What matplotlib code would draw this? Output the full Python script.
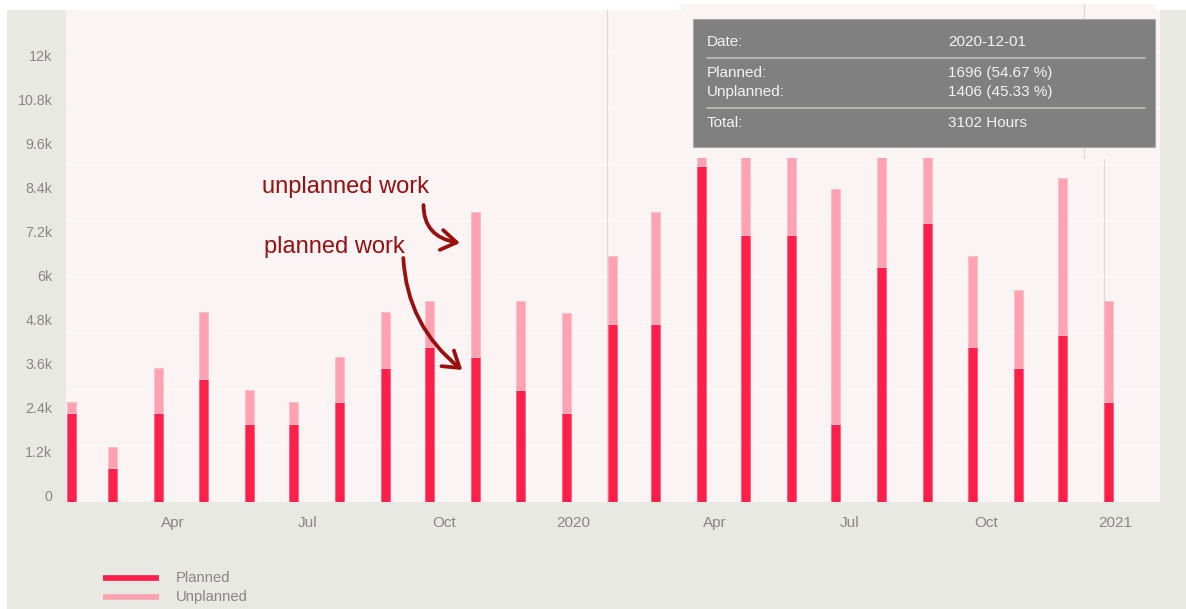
import matplotlib
matplotlib.use("Agg")
import matplotlib.pyplot as plt
import matplotlib.transforms as mtransforms
from matplotlib.patches import Rectangle, FancyArrowPatch, ArrowStyle
from matplotlib.lines import Line2D
from matplotlib.path import Path
import numpy as np
import pandas as pd

# ---------------- data ----------------
months = pd.date_range("2019-02-01", "2021-01-01", freq="MS")
planned = [2430, 930, 2430, 3360, 2130, 2130, 2740, 3670, 4240, 3970, 3050, 2430,
           4870, 4870, 9150, 7290, 7290, 2130, 6400, 7610, 4240, 3660, 4550, 2740]
unplanned = [310, 580, 1240, 1820, 920, 610, 1230, 1510, 1240, 3940, 2430, 2740,
             1840, 3040, 550, 2410, 2410, 6400, 3300, 2090, 2470, 2130, 4290, 2740]
series_names = ["Planned", "Unplanned"]

ytick_values = [0, 1200, 2400, 3600, 4800, 6000, 7200, 8400, 9600, 10800, 12000]
ytick_labels = ["0", "1.2k", "2.4k", "3.6k", "4.8k", "6k", "7.2k", "8.4k", "9.6k", "10.8k", "12k"]
xtick_dates = pd.to_datetime(["2019-04-01", "2019-07-01", "2019-10-01", "2020-01-01",
                              "2020-04-01", "2020-07-01", "2020-10-01", "2021-01-01"])
xtick_labels = ["Apr", "Jul", "Oct", "2020", "Apr", "Jul", "Oct", "2021"]

tooltip_date = "2020-12-01"
tooltip_planned = 1696
tooltip_unplanned = 1406
tooltip_total = tooltip_planned + tooltip_unplanned

annotations = ["unplanned work", "planned work"]

# ---------------- style ----------------
W, H = 1186, 609
RED = "#ff1f4b"
PINK = "#ffa3b3"
PLOT_BG = "#faf4f4"
PANEL = "#e9e9e4"
GREY_TXT = "#8a8585"
ANNOT = "#9a0e0e"
FONT = "Liberation Sans"

plt.rcParams["font.family"] = [FONT, "DejaVu Sans"]

fig = plt.figure(figsize=(W / 100, H / 100), dpi=100, facecolor="white")
# pixel transform (top-left origin)
px = mtransforms.Affine2D().scale(1, -1).translate(0, H)


def off(dx, dy):
    return mtransforms.ScaledTranslation(dx / 100, dy / 100, fig.dpi_scale_trans)


# grey panel
fig.add_artist(Rectangle((7, 10), W - 7, H - 10, transform=px, facecolor=PANEL,
                         edgecolor="none", zorder=-10))

ax_left, ax_right, ax_top, ax_bottom = 66, 1160, 10, 502.3
ax = fig.add_axes([ax_left / W, 1 - ax_bottom / H, (ax_right - ax_left) / W,
                   (ax_bottom - ax_top) / H])
ax.set_facecolor(PLOT_BG)
for s in ax.spines.values():
    s.set_visible(False)

# scale: 36.7 px per 1000
y_top = (ax_bottom - ax_top) / 36.7 * 1000
ax.set_ylim(0, y_top)
ax.set_xlim(months[0] - pd.Timedelta(days=3.5), months[-1] + pd.Timedelta(days=34.7))

# faint gridlines
for v in np.arange(1534, y_top, 1534):
    ax.axhline(v, color="#fdf9f9", lw=1.3, zorder=0.5)

bar_w = 6.1
ax.bar(months, planned, width=bar_w, color=RED, edgecolor="#ff5c7c", linewidth=0.6,
       zorder=2, label=series_names[0])
ax.bar(months, unplanned, bottom=planned, width=bar_w, color=PINK, edgecolor="#ffbcc8",
       linewidth=0.6, zorder=2, label=series_names[1])

ax.set_xticks([])
ax.set_yticks([])

# y tick labels
for v, lab in zip(ytick_values, ytick_labels):
    ax.text(0, v, lab, transform=ax.get_yaxis_transform() + off(-13.7, 5.3),
            ha="right", va="center", fontsize=10.3, color=GREY_TXT)
# x tick labels
for d, lab in zip(xtick_dates, xtick_labels):
    dx = 7 if lab.isdigit() else 14
    ax.text(d, 0, lab, transform=ax.get_xaxis_transform() + off(dx, -21),
            ha="center", va="center", fontsize=11, color=GREY_TXT)

# crosshair lines inside plot
ax.add_line(Line2D([607.3, 607.3], [10, 502.3], transform=px, color="#dcd8d8", lw=0.9, zorder=1))
ax.add_line(Line2D([1103.7, 1103.7], [159, 502.3], transform=px, color="#dcd8d8", lw=0.9, zorder=1))

# annotations
fig.text(261.7 / W, 1 - 193.3 / H, annotations[0], fontsize=17, color=ANNOT, va="baseline")
fig.text(264 / W, 1 - 252.7 / H, annotations[1], fontsize=17, color=ANNOT, va="baseline")

astyle = ArrowStyle("->", head_length=0.55, head_width=0.36)
p1 = Path([(423.5, 205), (423.5, 237), (460, 243)], [Path.MOVETO, Path.CURVE3, Path.CURVE3])
p2 = Path([(403.3, 258), (407, 326), (462.3, 370)], [Path.MOVETO, Path.CURVE3, Path.CURVE3])
for p in (p1, p2):
    fig.add_artist(FancyArrowPatch(path=p, transform=px, arrowstyle=astyle, mutation_scale=20,
                                   color=ANNOT, lw=2.7, capstyle="round", joinstyle="round",
                                   zorder=4))

# tooltip cover + box
fig.add_artist(Rectangle((681, 4), 1155 - 681, 158 - 4, transform=px, facecolor=PLOT_BG,
                         edgecolor="none", zorder=5))
fig.add_artist(Line2D([1084, 1084], [4, 158], transform=px, color="#dcd8d8", lw=0.9, zorder=5.5))
fig.add_artist(Rectangle((693, 19), 1155 - 693, 147 - 19, transform=px, facecolor="#808080",
                         edgecolor="#a8a8a8", lw=0.8, zorder=6))
TT = "#f3f3f3"
rows = [("Date:", tooltip_date, 42.3),
        ("Planned:", f"{tooltip_planned} ({tooltip_planned / tooltip_total * 100:.2f} %)", 73.3),
        ("Unplanned:", f"{tooltip_unplanned} ({tooltip_unplanned / tooltip_total * 100:.2f} %)", 91.7),
        ("Total:", f"{tooltip_total} Hours", 123.3)]
for k, v, y in rows:
    fig.text(707 / W, 1 - y / H, k, fontsize=11, color=TT, va="center", zorder=7)
    fig.text(948 / W, 1 - y / H, v, fontsize=11, color=TT, va="center", zorder=7)
for y in (58.3, 107.7):
    fig.add_artist(Line2D([707, 1145], [y, y], transform=px, color="#c4c4bc", lw=1.1, zorder=7))

# legend
for name, col, y in zip(series_names, [RED, PINK], [578.3, 597.3]):
    fig.add_artist(Line2D([103, 159], [y, y], transform=px, color=col, lw=4.1,
                          solid_capstyle="butt", zorder=3))
    fig.text(176 / W, 1 - y / H, name, fontsize=10.7, color=GREY_TXT, va="center")

fig.savefig("out.png", dpi=100, facecolor=fig.get_facecolor())
